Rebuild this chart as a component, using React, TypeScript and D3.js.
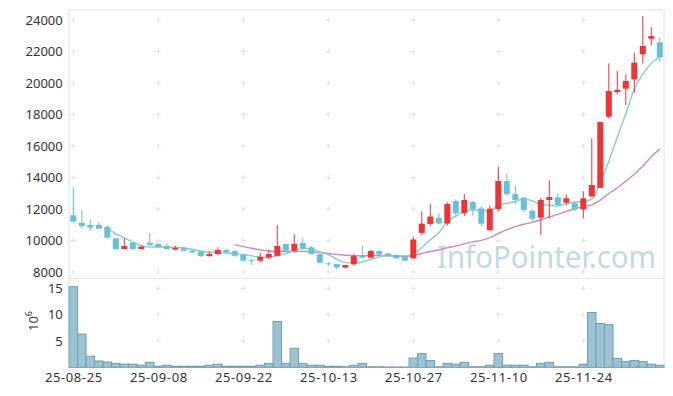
import React, { useEffect, useRef } from "react";
import * as d3 from "d3";

// trading days (holidays skipped)
const dates = [
  "25-08-25", "25-08-26", "25-08-27", "25-08-28", "25-08-29",
  "25-09-01", "25-09-02", "25-09-03", "25-09-04", "25-09-05",
  "25-09-08", "25-09-09", "25-09-10", "25-09-11", "25-09-12",
  "25-09-15", "25-09-16", "25-09-17", "25-09-18", "25-09-19",
  "25-09-22", "25-09-23", "25-09-24", "25-09-25", "25-09-26",
  "25-09-29", "25-09-30", "25-10-01", "25-10-02", "25-10-10",
  "25-10-13", "25-10-14", "25-10-15", "25-10-16", "25-10-17",
  "25-10-20", "25-10-21", "25-10-22", "25-10-23", "25-10-24",
  "25-10-27", "25-10-28", "25-10-29", "25-10-30", "25-10-31",
  "25-11-03", "25-11-04", "25-11-05", "25-11-06", "25-11-07",
  "25-11-10", "25-11-11", "25-11-12", "25-11-13", "25-11-14",
  "25-11-17", "25-11-18", "25-11-19", "25-11-20", "25-11-21",
  "25-11-24", "25-11-25", "25-11-26", "25-11-27", "25-11-28",
  "25-12-01", "25-12-02", "25-12-03", "25-12-04", "25-12-05",
];

const openP = [
  11600, 11130, 10990, 10990, 10860, 10140, 9460, 9860, 9460, 9860,
  9780, 9650, 9420, 9540, 9350, 9290, 9010, 9140, 9400, 9330,
  9080, 8760, 8720, 8930, 9030, 9780, 9350, 9840, 9570, 9140,
  8550, 8510, 8280, 8490, 9080, 8910, 9330, 9180, 9080, 8970,
  8870, 10480, 11050, 11430, 11080, 12510, 11730, 12440, 12040, 10660,
  12000, 13780, 12950, 12720, 11890, 11450, 12570, 12740, 12400, 12360,
  11980, 12800, 13350, 17860, 19430, 19640, 20230, 21820, 22810, 22580,
];
const highP = [
  13400, 11940, 11350, 11150, 10990, 10150, 10150, 9920, 9700, 10480,
  9830, 9820, 9650, 9560, 9380, 9300, 9290, 9570, 9460, 9420,
  9100, 8850, 9220, 9440, 10980, 9800, 10400, 10140, 9650, 9160,
  8660, 8530, 8460, 9120, 9650, 9420, 9400, 9230, 9100, 9030,
  10240, 11850, 12320, 11730, 12420, 12620, 12950, 12510, 12190, 12230,
  14690, 14250, 13500, 12780, 11980, 12720, 13820, 12990, 12910, 12420,
  13140, 16490, 17520, 21250, 20760, 20550, 21930, 24250, 23540, 22880,
];
const lowP = [
  11150, 10780, 10620, 10700, 10130, 9400, 9440, 9400, 9420, 9610,
  9530, 9420, 9380, 9330, 9200, 8950, 8970, 9080, 9230, 8970,
  8700, 8420, 8660, 8800, 8970, 9330, 9250, 9420, 9100, 8570,
  8380, 8170, 8250, 8400, 8870, 8880, 9060, 8960, 8850, 8680,
  8830, 10330, 10920, 11030, 10950, 11500, 11560, 11560, 10920, 10600,
  11850, 12830, 12320, 11790, 11190, 10330, 11380, 12190, 12230, 11870,
  11400, 12750, 13350, 17760, 19280, 18600, 19380, 21250, 22410, 21350,
];
const closeP = [
  11200, 10920, 10820, 10750, 10180, 9460, 9650, 9460, 9610, 9710,
  9580, 9460, 9540, 9350, 9230, 9010, 9140, 9400, 9260, 9030,
  8720, 8720, 8970, 9140, 9650, 9350, 9780, 9500, 9140, 8590,
  8510, 8290, 8440, 9010, 8910, 9330, 9120, 9010, 8870, 8720,
  10060, 11070, 11520, 11080, 12320, 11730, 12570, 11980, 11060, 12020,
  13780, 12950, 12570, 11940, 11380, 12570, 12760, 12250, 12680, 11980,
  12680, 13520, 17520, 19490, 19560, 20130, 21290, 22350, 22980, 21630,
];
// volume in millions of shares
const volume = [
  15.3, 6.3, 2.1, 1.2, 1.0, 0.75, 0.6, 0.6, 0.4, 0.95,
  0.2, 0.4, 0.2, 0.2, 0.2, 0.2, 0.4, 0.6, 0.2, 0.2,
  0.2, 0.2, 0.4, 0.75, 8.7, 0.75, 3.6, 0.75, 0.4, 0.4,
  0.2, 0.2, 0.1, 0.4, 0.75, 0.1, 0.1, 0.05, 0.05, 0.05,
  1.75, 2.6, 1.3, 0.1, 0.75, 0.6, 0.95, 0.1, 0.1, 0.4,
  2.6, 0.4, 0.4, 0.4, 0.1, 0.75, 0.95, 0.1, 0.1, 0.1,
  0.6, 10.4, 8.3, 8.1, 1.7, 1.1, 1.3, 1.1, 0.6, 0.4,
];

const dateTicks = ["25-08-25", "25-09-08", "25-09-22", "25-10-13", "25-10-27", "25-11-10", "25-11-24"];
const priceTicks = [8000, 10000, 12000, 14000, 16000, 18000, 20000, 22000, 24000];
const volTicks = [5, 10, 15];

const UP = "#ee3437";
const DOWN = "#69c0d7";
const FONT = "Noto Sans, sans-serif";

const movingAvg = (vals: number[], n: number) =>
  vals.map((_, i) => (i < n - 1 ? null : d3.mean(vals.slice(i - n + 1, i + 1)) as number));

const App = () => {
  const ref = useRef<SVGSVGElement>(null);

  useEffect(() => {
    const svg = d3.select(ref.current);
    svg.selectAll("*").remove();

    const width = 673;
    const height = 396;
    const left = 69.05;
    const right = 664.05;
    const top = 10;
    const split = 278.3;
    const bottom = 367.3;

    const x = d3.scaleLinear().domain([-0.5, dates.length - 0.5]).range([left, right]);
    const yP = d3.scaleLinear().domain([8000, 24000]).range([272, 20]);
    const yV = d3.scaleLinear().domain([0, 15]).range([bottom, 288.3]);

    svg.attr("width", width).attr("height", height);

    // frame
    svg.append("rect")
      .attr("x", left).attr("y", top)
      .attr("width", right - left).attr("height", bottom - top)
      .attr("fill", "none").attr("stroke", "#e4e4e4");
    svg.append("line")
      .attr("x1", left).attr("x2", right).attr("y1", split).attr("y2", split)
      .attr("stroke", "#e4e4e4");

    // grid crosses
    const tickIdx = dateTicks.map(d => dates.indexOf(d));
    const crossY = [...priceTicks.map(v => yP(v)), ...volTicks.map(v => yV(v))];
    const grid = svg.append("g").attr("stroke", "#e2e2e2").attr("stroke-width", 1);
    tickIdx.forEach(i => {
      crossY.forEach(cy => {
        const cx = x(i);
        grid.append("line").attr("x1", cx - 2.5).attr("x2", cx + 2.5).attr("y1", cy).attr("y2", cy);
        grid.append("line").attr("x1", cx).attr("x2", cx).attr("y1", cy - 2.5).attr("y2", cy + 2.5);
      });
    });

    // watermark
    svg.append("text")
      .attr("x", 437).attr("y", 268)
      .attr("font-family", FONT).attr("font-size", 30)
      .attr("textLength", 219).attr("lengthAdjust", "spacingAndGlyphs")
      .attr("fill", "#c6d8e4")
      .text("InfoPointer.com");

    // volume bars
    const bw = x(1) - x(0);
    svg.append("g")
      .selectAll("rect")
      .data(volume)
      .join("rect")
      .attr("x", (_, i) => x(i) - bw / 2)
      .attr("y", d => yV(d))
      .attr("width", bw)
      .attr("height", d => bottom - yV(d))
      .attr("fill", "#9dc3d3")
      .attr("stroke", "#6e9fb6")
      .attr("stroke-width", 1);

    // moving averages
    const line = d3.line<number | null>()
      .defined(d => d != null)
      .x((_, i) => x(i))
      .y(d => yP(d as number))
      .curve(d3.curveMonotoneX);
    svg.append("path")
      .attr("d", line(movingAvg(closeP, 20)))
      .attr("fill", "none").attr("stroke", "#c98bc4").attr("stroke-width", 1.4);
    svg.append("path")
      .attr("d", line(movingAvg(closeP, 5)))
      .attr("fill", "none").attr("stroke", "#8bcdbf").attr("stroke-width", 1.4);

    // candles
    const candles = svg.append("g")
      .selectAll("g")
      .data(dates.map((d, i) => ({ i, o: openP[i], h: highP[i], l: lowP[i], c: closeP[i] })))
      .join("g")
      .attr("fill", d => (d.c >= d.o ? UP : DOWN));
    candles.append("rect")
      .attr("x", d => x(d.i) - 0.5)
      .attr("y", d => yP(d.h))
      .attr("width", 1)
      .attr("height", d => Math.max(1, yP(d.l) - yP(d.h)));
    candles.append("rect")
      .attr("x", d => x(d.i) - 3)
      .attr("y", d => yP(Math.max(d.o, d.c)))
      .attr("width", 6)
      .attr("height", d => Math.max(1, Math.abs(yP(d.o) - yP(d.c))));

    // axes
    const styleAxis = (g: any) => {
      g.select(".domain").remove();
      g.attr("font-family", FONT).attr("font-size", 13).attr("color", "#333");
    };
    svg.append("g")
      .attr("transform", `translate(${left},0)`)
      .call(d3.axisLeft(yP).tickValues(priceTicks).tickSize(0).tickPadding(6.3).tickFormat(d => String(d)))
      .call(styleAxis);
    svg.append("g")
      .attr("transform", `translate(${left},0)`)
      .call(d3.axisLeft(yV).tickValues(volTicks).tickSize(0).tickPadding(6.3).tickFormat(d => String(d)))
      .call(styleAxis);
    svg.append("g")
      .attr("transform", `translate(0,${bottom})`)
      .call(d3.axisBottom(x).tickValues(tickIdx).tickSize(0).tickPadding(5).tickFormat(i => dates[i as number]))
      .call(styleAxis)
      .selectAll("text")
      .attr("letter-spacing", 0.6);

    // volume unit label
    const unit = svg.append("text")
      .attr("transform", "translate(38,321) rotate(-90)")
      .attr("text-anchor", "middle")
      .attr("font-family", FONT).attr("font-size", 13).attr("fill", "#333");
    unit.append("tspan").text("10");
    unit.append("tspan").attr("font-size", 9).attr("dy", -6).text("6");
  }, []);

  return <svg ref={ref} style={{ position: "absolute", left: 0, top: 0, display: "block" }}></svg>;
};

export default App;
